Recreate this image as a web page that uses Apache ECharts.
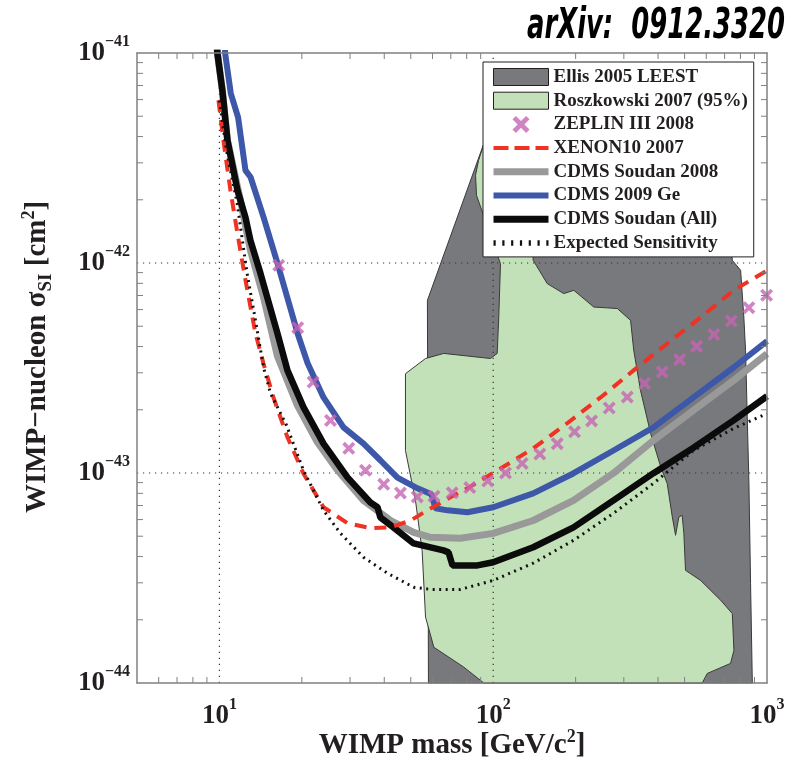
<!DOCTYPE html>
<html><head><meta charset="utf-8">
<script src="https://cdn.jsdelivr.net/npm/echarts@6/dist/echarts.min.js"></script>
<style>html,body{margin:0;padding:0;background:#fff}#c{width:797px;height:764px}</style>
</head><body><div id="c"></div>
<script>
// ---- data (WIMP mass [GeV/c^2], cross-section [cm^2]) ----
const xMin = 5, xMax = 1000, yMin = 1e-44, yMax = 1e-41;

const ellis = [[58.0,1e-44],[57.5,6.64e-43],[91.4,3.56e-42],[106,5.64e-42],[676,5.64e-42],[747,1.03e-42],[801,9.23e-43],[823,5.53e-43],[835,3.84e-43],[847,1.85e-43],[859,8.93e-44],[871,2.98e-44],[884,1e-44]];

const roszkowski = [[91.4,3.52e-42],[97.8,4.78e-42],[131,4.78e-42],[140,1.03e-42],[157.5,7.98e-43],[181,7.15e-43],[197,7.41e-43],[233,6.17e-43],[284,6.07e-43],[317.5,5.33e-43],[326,3.84e-43],[345,2.48e-43],[376,1.54e-43],[409,1.07e-43],[432,8.91e-44],[451,6.17e-44],[463.5,5.05e-44],[476.5,6.17e-44],[490,6.29e-44],[497,5.14e-44],[504,3.44e-44],[572,3.08e-44],[677,2.48e-44],[747,2.14e-44],[757,1.43e-44],[736,1.24e-44],[605,1.11e-44],[580,1e-44],[92.4,1e-44],[78.1,1.19e-44],[60.7,1.48e-44],[56.6,2.06e-44],[55.0,4.28e-44],[52.0,7.41e-44],[47.8,1.28e-43],[47.8,2.97e-43],[56.6,3.51e-43],[66.0,3.71e-43],[97.7,3.51e-43],[103.4,3.71e-43],[104.8,5.53e-43],[106.3,9.93e-43],[97.7,1.35e-42],[91.4,1.74e-42],[86.9,2.10e-42],[86.2,2.62e-42],[88.4,3.08e-42]];

const zeplin = [[16.47,9.75e-43],[19.32,4.92e-43],[21.99,2.71e-43],[25.45,1.78e-43],[29.68,1.31e-43],[34.16,1.03e-43],[39.83,8.83e-44],[45.84,8.03e-44],[52.78,7.69e-44],[60.78,7.74e-44],[70.84,8.05e-44],[82.14,8.52e-44],[95.56,9.16e-44],[110.9,1.0e-43],[127.6,1.11e-43],[148.0,1.23e-43],[171.3,1.38e-43],[198.2,1.57e-43],[228.7,1.77e-43],[265.3,2.04e-43],[308.8,2.30e-43],[357.2,2.67e-43],[414.5,3.03e-43],[479.4,3.47e-43],[553.3,4.01e-43],[639.7,4.57e-43],[740.6,5.30e-43],[858.8,6.13e-43],[996.6,7.02e-43]];

const xenon = [[9.92,5.96e-42],[10.34,3.84e-42],[10.97,2.22e-42],[11.64,1.38e-42],[12.45,8.28e-43],[13.54,4.62e-43],[14.48,3.33e-43],[15.75,2.29e-43],[17.72,1.48e-43],[20.27,9.95e-44],[24.0,6.87e-44],[29.36,5.77e-44],[35.6,5.46e-44],[42.2,5.51e-44],[49.9,5.94e-44],[59.0,6.78e-44],[69.8,7.66e-44],[80.5,8.45e-44],[106.4,1.05e-43],[140,1.31e-43],[186.8,1.73e-43],[246.6,2.29e-43],[325.6,3.08e-43],[433.4,4.15e-43],[572.5,5.51e-43],[755,7.41e-43],[1000,9.2e-43]];

const soudan2008 = [[9.65,1.5e-41],[9.83,1.0e-41],[10.25,6.64e-42],[10.7,3.84e-42],[11.93,1.99e-42],[12.98,1.15e-42],[14.48,6.9e-43],[16.29,3.6e-43],[19.27,2.1e-43],[22.8,1.4e-43],[27.0,1.03e-43],[33.6,7.41e-44],[42.2,5.94e-44],[51.2,5.21e-44],[59.0,4.94e-44],[75.9,4.89e-44],[100,5.16e-44],[140,5.94e-44],[196.5,7.41e-44],[275,9.98e-44],[385,1.43e-43],[539,1.99e-43],[755,2.76e-43],[1000,3.7e-43]];

const ge2009 = [[10.3,1.4e-41],[10.5,9.9e-42],[11.0,6.43e-42],[11.7,4.94e-42],[12.45,2.76e-42],[13.0,2.56e-42],[14.5,1.65e-42],[16.3,9.95e-43],[19.3,4.62e-43],[21.0,3.33e-43],[24.0,2.29e-43],[28.4,1.65e-43],[33.6,1.38e-43],[38.7,1.15e-43],[44.7,9.5e-44],[52.9,8.45e-44],[59.5,7.92e-44],[61.5,6.79e-44],[68.1,6.64e-44],[80.5,6.5e-44],[100,6.87e-44],[140,8.0e-44],[196,9.95e-44],[275,1.28e-43],[385,1.65e-43],[539,2.29e-43],[755,3.18e-43],[1000,4.25e-43]];

const soudanAll = [[9.65,1.5e-41],[9.83,1.0e-41],[10.25,6.64e-42],[10.7,3.84e-42],[11.64,2.22e-42],[12.45,1.65e-42],[12.98,1.28e-42],[14.12,8.93e-43],[16.29,4.62e-43],[17.72,3.08e-43],[20.27,2.06e-43],[24.0,1.38e-43],[29.36,9.53e-44],[35.6,7.24e-44],[37.8,6.87e-44],[38.7,6.15e-44],[43.2,5.51e-44],[51.2,4.62e-44],[65.8,4.28e-44],[68.7,4.19e-44],[71.0,3.63e-44],[87.6,3.63e-44],[100,3.76e-44],[140,4.43e-44],[196.5,5.51e-44],[275,7.41e-44],[385,9.98e-44],[539,1.32e-43],[755,1.78e-43],[1000,2.32e-43]];

const expected = [[10.0,5.94e-42],[10.61,3.44e-42],[11.61,1.92e-42],[12.62,8.93e-43],[13.54,5.33e-43],[14.52,3.15e-43],[15.36,2.40e-43],[17.57,1.69e-43],[20.27,1.03e-43],[23.99,6.64e-44],[27.68,5.16e-44],[33.58,3.97e-44],[41.11,3.33e-44],[51.15,2.86e-44],[59.0,2.79e-44],[75.9,2.79e-44],[100,3.08e-44],[140,3.72e-44],[196.5,4.78e-44],[275,6.43e-44],[385,8.93e-44],[539,1.28e-43],[755,1.63e-43],[1000,1.92e-43]];

const xMinorTicks = [6,7,8,9,20,30,40,50,60,70,80,90,200,300,400,500,600,700,800,900];
const yMinorTicks = [2e-44,3e-44,4e-44,5e-44,6e-44,7e-44,8e-44,9e-44,2e-43,3e-43,4e-43,5e-43,6e-43,7e-43,8e-43,9e-43,2e-42,3e-42,4e-42,5e-42,6e-42,7e-42,8e-42,9e-42];
const xGrid = [10, 100];
const yGrid = [1e-43, 1e-42];

const names = ['Ellis 2005 LEEST','Roszkowski 2007 (95%)','ZEPLIN III 2008','XENON10 2007','CDMS Soudan 2008','CDMS 2009 Ge','CDMS Soudan (All)','Expected Sensitivity'];
const titleText = 'arXiv:  0912.3320';
const xTitle = 'WIMP mass [GeV/c{sup|2}]';
const yTitle = 'WIMP\u2212nucleon \u03c3{sub|SI} [cm{sup|2}]';

// ---- the y axis works in units of 1e-44 cm^2 (float precision of the log scale) ----
const Y_UNIT = 1e-44, Y_EXP = -44;
const toAxis = arr => arr.map(p => [p[0], p[1] / Y_UNIT]);
const yLo = yMin / Y_UNIT, yHi = yMax / Y_UNIT;

// ---- styles ----
const TXT = '#231f20';
const SERIF = '"Liberation Serif","Times New Roman",serif';
const C_ELLIS = '#78797d', C_ROSZ = '#c3e1b9', C_ZEP = '#c764b4', C_XEN = '#ee3224',
      C_S08 = '#999999', C_GE = '#3d57a9', C_ALL = '#0b0b0b', C_EXP = '#111111';
const XPATH = 'path://M2,0 L5,3 L8,0 L10,2 L7,5 L10,8 L8,10 L5,7 L2,10 L0,8 L3,5 L0,2 Z';
const ICON_SOLID7 = 'path://M0,0h55v7h-55z';
const ICON_SOLID6 = 'path://M0,0h55v6h-55z';
const ICON_DASH = 'path://M0,0h15v4h-15z M21,0h15v4h-15z M42,0h13v4h-13z';
const ICON_DOT = 'path://M0,0h2v5h-2z M8,0h2v5h-2z M16,0h2v5h-2z M24,0h2v5h-2z M32,0h2v5h-2z M40,0h2v5h-2z M48,0h2v5h-2z';

function powLabel(offset){
  return function(v){
    const l = Math.log10(v), e = Math.round(l);
    if (Math.abs(l - e) > 1e-6) return '';
    const ex = e + offset;
    return '{b|10}{s|' + (ex < 0 ? '\u2212' + (-ex) : ex) + '}';
  };
}
const labelRich = {
  b:{fontFamily:SERIF, fontWeight:'bold', fontSize:27, lineHeight:38, color:TXT},
  s:{fontFamily:SERIF, fontWeight:'bold', fontSize:16, lineHeight:16, verticalAlign:'top', color:TXT}
};

function polygonSeries(name, pts, fill){
  const ax = toAxis(pts);
  return {
    name, type:'custom', coordinateSystem:'cartesian2d', z:1, silent:true,
    data: ax, encode:{x:0, y:1},
    itemStyle:{color:fill, borderColor:'#333'},
    renderItem(params, api){
      if (params.dataIndex !== 0) return null;
      return {type:'polygon', shape:{points: ax.map(p => api.coord(p))},
              style:{fill:fill, stroke:'#3a3a3a', lineWidth:1}};
    }
  };
}

const chart = echarts.init(document.getElementById('c'), null, {renderer:'canvas'});

const TITLE_FONT = 'italic bold 42px "DejaVu Sans"';
const mctx = document.createElement('canvas').getContext('2d');
mctx.font = TITLE_FONT;
const titleScale = 258 / mctx.measureText(titleText).width;

const frameAxis = {axisLine:{show:true, onZero:false, lineStyle:{color:'#808080', width:1.5}},
                   axisTick:{show:false}, splitLine:{show:false}, minorTick:{show:false}};

chart.setOption({
  animation:false,
  backgroundColor:'#fff',
  grid:{left:137, right:30, top:53, bottom:81, containLabel:false},
  xAxis:[
    Object.assign({type:'log', logBase:10, min:xMin, max:xMax, position:'bottom', z:10,
      axisLabel:{formatter:powLabel(0), margin:14, rich:labelRich, showMinLabel:true, showMaxLabel:true}}, frameAxis),
    Object.assign({type:'log', logBase:10, min:xMin, max:xMax, position:'top', z:10, axisLabel:{show:false}}, frameAxis)
  ],
  yAxis:[
    Object.assign({type:'log', logBase:10, min:yLo, max:yHi, position:'left', z:10,
      axisLabel:{formatter:powLabel(Y_EXP), margin:7, rich:labelRich, showMinLabel:true, showMaxLabel:true}}, frameAxis),
    Object.assign({type:'log', logBase:10, min:yLo, max:yHi, position:'right', z:10, axisLabel:{show:false}}, frameAxis)
  ],
  legend:{
    orient:'vertical', left:483, top:62, z:20,
    itemWidth:55, itemHeight:17, itemGap:3.7,
    padding:[5,6,4,10],
    backgroundColor:'#fff', borderColor:TXT, borderWidth:1, borderRadius:0,
    selectedMode:false,
    textStyle:{fontFamily:SERIF, fontWeight:'bold', fontSize:19, lineHeight:20, color:TXT},
    data:[
      {name:names[0], icon:'rect', itemStyle:{color:C_ELLIS, borderColor:TXT, borderWidth:1}},
      {name:names[1], icon:'rect', itemStyle:{color:C_ROSZ, borderColor:TXT, borderWidth:1}},
      {name:names[2], icon:XPATH, itemStyle:{color:C_ZEP}},
      {name:names[3], icon:ICON_DASH, itemStyle:{color:C_XEN}},
      {name:names[4], icon:ICON_SOLID7, itemStyle:{color:C_S08}},
      {name:names[5], icon:ICON_SOLID6, itemStyle:{color:C_GE}},
      {name:names[6], icon:ICON_SOLID7, itemStyle:{color:C_ALL}},
      {name:names[7], icon:ICON_DOT, itemStyle:{color:C_EXP}}
    ]
  },
  graphic:[
    {type:'text', x:527, y:27, scaleX:titleScale, scaleY:1, z:30,
     style:{text:titleText, font:TITLE_FONT, fill:'#000', textAlign:'left', textVerticalAlign:'middle'}},
    {type:'text', x:452, y:746, z:30,
     style:{text:xTitle, fontFamily:SERIF, fontWeight:'bold', fontSize:29, lineHeight:36, fill:TXT, textAlign:'center', textVerticalAlign:'middle',
       rich:{sup:{fontFamily:SERIF, fontWeight:'bold', fontSize:18, lineHeight:18, verticalAlign:'top', fill:TXT}}}},
    {type:'text', x:38, y:357, rotation:Math.PI/2, z:30,
     style:{text:yTitle, fontFamily:SERIF, fontWeight:'bold', fontSize:29, lineHeight:36, fill:TXT, textAlign:'center', textVerticalAlign:'middle',
       rich:{sup:{fontFamily:SERIF, fontWeight:'bold', fontSize:18, lineHeight:18, verticalAlign:'top', fill:TXT},
             sub:{fontFamily:SERIF, fontWeight:'bold', fontSize:19, lineHeight:19, verticalAlign:'bottom', fill:TXT}}}}
  ],
  series:[
    polygonSeries(names[0], ellis, C_ELLIS),
    polygonSeries(names[1], roszkowski, C_ROSZ),
    {type:'custom', z:2, silent:true, data:xGrid.map(v => [v, yLo]),
     renderItem(params, api){
       const b = api.coord([api.value(0), yLo]), t = api.coord([api.value(0), yHi]);
       return {type:'line', shape:{x1:b[0], y1:b[1], x2:t[0], y2:t[1]}, style:{stroke:'#333', lineWidth:1.2, lineDash:[1.2,4.8]}};
     }},
    {type:'custom', z:2, silent:true, data:yGrid.map(v => [xMin, v / Y_UNIT]),
     renderItem(params, api){
       const l = api.coord([xMin, api.value(1)]), r = api.coord([xMax, api.value(1)]);
       return {type:'line', shape:{x1:l[0], y1:l[1], x2:r[0], y2:r[1]}, style:{stroke:'#333', lineWidth:1.2, lineDash:[1.2,4.8]}};
     }},
    {type:'custom', z:9, silent:true, data:xMinorTicks.map(v => [v, yLo]),
     renderItem(params, api){
       const b = api.coord([api.value(0), yLo]), t = api.coord([api.value(0), yHi]);
       const st = {stroke:'#808080', lineWidth:1};
       return {type:'group', children:[
         {type:'line', shape:{x1:b[0], y1:b[1], x2:b[0], y2:b[1]-6}, style:st},
         {type:'line', shape:{x1:t[0], y1:t[1], x2:t[0], y2:t[1]+6}, style:st}]};
     }},
    {type:'custom', z:9, silent:true, data:yMinorTicks.map(v => [xMin, v / Y_UNIT]),
     renderItem(params, api){
       const l = api.coord([xMin, api.value(1)]), r = api.coord([xMax, api.value(1)]);
       const st = {stroke:'#808080', lineWidth:1};
       return {type:'group', children:[
         {type:'line', shape:{x1:l[0], y1:l[1], x2:l[0]+6, y2:l[1]}, style:st},
         {type:'line', shape:{x1:r[0], y1:r[1], x2:r[0]-6, y2:r[1]}, style:st}]};
     }},
    {name:names[4], type:'line', z:3, data:toAxis(soudan2008), symbol:'none', showSymbol:false, clip:true,
     lineStyle:{color:C_S08, width:7}, itemStyle:{color:C_S08}},
    {name:names[6], type:'line', z:4, data:toAxis(soudanAll), symbol:'none', showSymbol:false, clip:true,
     lineStyle:{color:C_ALL, width:6.5}, itemStyle:{color:C_ALL}},
    {name:names[5], type:'line', z:4, data:toAxis(ge2009), symbol:'none', showSymbol:false, clip:true,
     lineStyle:{color:C_GE, width:6}, itemStyle:{color:C_GE}},
    {name:names[3], type:'line', z:5, data:toAxis(xenon), symbol:'none', showSymbol:false, clip:true,
     lineStyle:{color:C_XEN, width:4, type:[12,8]}, itemStyle:{color:C_XEN}},
    {name:names[7], type:'line', z:6, data:toAxis(expected), symbol:'none', showSymbol:false, clip:true,
     lineStyle:{color:C_EXP, width:3, type:[2,4.5]}, itemStyle:{color:C_EXP}},
    {name:names[2], type:'scatter', z:7, data:toAxis(zeplin), symbol:XPATH, symbolSize:13,
     itemStyle:{color:C_ZEP}}
  ]
});
</script>
</body></html>
